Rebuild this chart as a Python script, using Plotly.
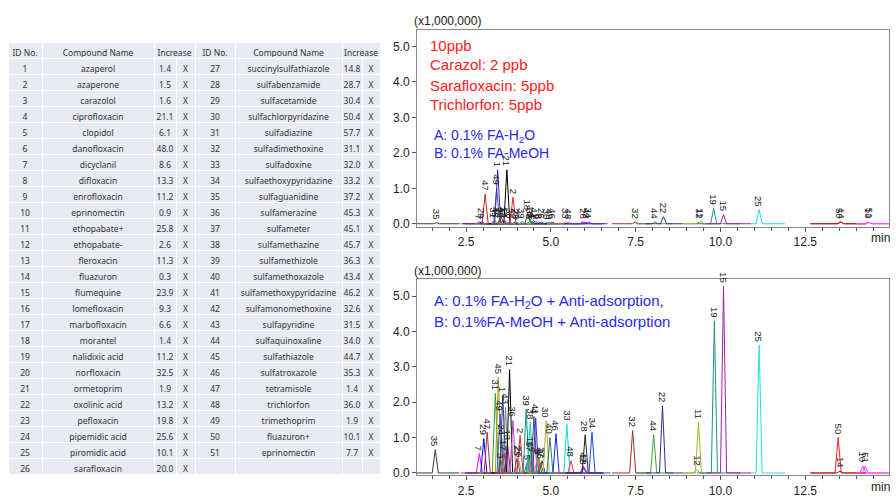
import plotly.graph_objects as go

# ---------------- table data ----------------
ids_left = list(range(1, 27))
names_left = ["azaperol", "azaperone", "carazolol", "ciprofloxacin", "clopidol", "danofloxacin",
              "dicyclanil", "difloxacin", "enrofloxacin", "eprinomectin", "ethopabate+", "ethopabate-",
              "fleroxacin", "fluazuron", "flumequine", "lomefloxacin", "marbofloxacin", "morantel",
              "nalidixic acid", "norfloxacin", "ormetoprim", "oxolinic acid", "pefloxacin",
              "pipemidic acid", "piromidic acid", "sarafloxacin"]
inc_left = [1.4, 1.5, 1.6, 21.1, 6.1, 48.0, 8.6, 13.3, 11.2, 0.9, 25.8, 2.6, 11.3, 0.3, 23.9,
            9.3, 6.6, 1.4, 11.2, 32.5, 1.9, 13.2, 19.8, 25.6, 10.1, 20.0]

ids_right = list(range(27, 52))
names_right = ["succinylsulfathiazole", "sulfabenzamide", "sulfacetamide", "sulfachlorpyridazine",
               "sulfadiazine", "sulfadimethoxine", "sulfadoxine", "sulfaethoxypyridazine",
               "sulfaguanidine", "sulfamerazine", "sulfameter", "sulfamethazine", "sulfamethizole",
               "sulfamethoxazole", "sulfamethoxypyridazine", "sulfamonomethoxine", "sulfapyridine",
               "sulfaquinoxaline", "sulfathiazole", "sulfatroxazole", "tetramisole", "trichlorfon",
               "trimethoprim", "fluazuron+", "eprinomectin"]
inc_right = [14.8, 28.7, 30.4, 50.4, 57.7, 31.1, 32.0, 33.2, 37.2, 45.3, 45.1, 45.7, 36.3, 43.4,
             46.2, 32.6, 31.5, 34.0, 44.7, 35.3, 1.4, 36.0, 1.9, 10.1, 7.7]

header_labels = ["ID\u00a0No.", "Compound\u00a0Name", "Increase"]

# ---------------- chromatogram data ----------------
# top: 10 ppb, standard mobile phase (heights in x1,000,000)
top_ids = [35, 7, 29, 47, 31, 45, 49, 1, 24, 3, 43, 17, 13, 21, 36, 2, 23, 20, 39, 18, 38, 16,
           6, 4, 41, 9, 8, 26, 30, 40, 46, 33, 48, 28, 42, 34, 32, 44, 22, 12, 11, 19, 15, 25,
           50, 14, 10, 51]
top_rt = [1.62, 2.88, 2.96, 3.06, 3.30, 3.36, 3.40, 3.43, 3.48, 3.52, 3.56, 3.60, 3.65, 3.70,
          3.78, 3.88, 3.95, 4.00, 4.15, 4.32, 4.36, 4.40, 4.45, 4.48, 4.52, 4.58, 4.63, 4.72,
          4.86, 4.95, 5.05, 5.45, 5.52, 5.95, 6.03, 6.12, 7.49, 8.07, 8.32, 9.36, 9.42, 9.80,
          10.09, 11.14, 13.53, 13.56, 14.35, 14.38]
top_h = [0.03, 0.06, 0.05, 0.84, 0.07, 0.08, 1.00, 1.52, 0.06, 0.22, 0.08, 0.10, 0.09, 1.52,
         0.05, 0.75, 0.05, 0.03, 0.06, 0.28, 0.05, 0.10, 0.03, 0.09, 0.06, 0.05, 0.06, 0.05,
         0.04, 0.04, 0.04, 0.06, 0.03, 0.05, 0.04, 0.05, 0.05, 0.06, 0.20, 0.04, 0.07, 0.43,
         0.26, 0.40, 0.06, 0.05, 0.04, 0.04]

# bottom: with anti-adsorption additive
bot_ids = [35, 7, 29, 47, 31, 45, 49, 3, 24, 1, 17, 43, 13, 21, 36, 23, 20, 2, 39, 5, 37, 38,
           16, 6, 4, 41, 9, 8, 26, 27, 30, 40, 46, 33, 48, 42, 18, 28, 34, 32, 44, 22, 12, 11,
           19, 15, 25, 50, 14, 10, 51]
bot_rt = [1.59, 2.89, 3.02, 3.12, 3.36, 3.45, 3.50, 3.53, 3.55, 3.58, 3.62, 3.66, 3.72, 3.78,
          3.88, 4.00, 4.05, 4.09, 4.27, 4.30, 4.35, 4.39, 4.41, 4.44, 4.50, 4.55, 4.60, 4.64,
          4.69, 4.74, 4.86, 4.97, 5.15, 5.47, 5.59, 5.95, 5.98, 6.01, 6.21, 7.41, 8.03, 8.29,
          9.30, 9.35, 9.82, 10.09, 11.14, 13.47, 13.52, 14.20, 14.27]
bot_h = [0.66, 0.55, 0.97, 1.15, 2.25, 2.70, 1.67, 0.35, 0.97, 2.20, 0.55, 1.85, 0.83, 2.92,
         1.48, 0.41, 0.35, 1.06, 1.81, 0.30, 0.50, 1.43, 0.62, 0.50, 1.60, 1.55, 0.45, 0.45,
         0.30, 0.35, 1.48, 1.00, 1.11, 1.37, 0.35, 0.20, 0.15, 1.08, 1.15, 1.20, 1.08, 1.90,
         0.10, 1.43, 4.30, 5.28, 3.62, 1.01, 0.05, 0.20, 0.20]

# acquisition windows (baseline segments) per compound
windows = {35: (1.05, 2.30), 32: (6.80, 7.95), 44: (7.50, 8.60), 22: (7.80, 8.90),
           12: (8.90, 9.90), 11: (8.90, 9.90), 19: (9.30, 10.60), 15: (9.60, 10.90),
           25: (10.90, 11.90), 50: (12.65, 14.30), 14: (12.65, 14.30), 10: (14.00, 15.00),
           51: (14.00, 15.00)}

peak_colors = {35: "#3a3a3a", 7: "#ff00ff", 29: "#0000ff", 47: "#b03030", 31: "#30a030",
               45: "#a0a000", 49: "#5050c0", 1: "#3030a0", 24: "#008080", 3: "#707020",
               43: "#808080", 17: "#e02020", 13: "#a020a0", 21: "#000000", 36: "#c040c0",
               2: "#d83030", 23: "#8b4513", 20: "#909090", 39: "#109090", 5: "#606060",
               37: "#20a020", 38: "#00d0d0", 16: "#30b030", 6: "#ff40ff", 4: "#505050",
               41: "#3030ff", 9: "#ff70b0", 8: "#40a040", 26: "#996633", 27: "#404040",
               30: "#b0b040", 40: "#208060", 46: "#2020e0", 33: "#00e0e0", 48: "#ff3030",
               42: "#ff00ff", 18: "#404040", 28: "#202020", 34: "#2040ff", 32: "#a03030",
               44: "#40a040", 22: "#303090", 12: "#70a070", 11: "#b0b020", 19: "#209090",
               15: "#a020a0", 25: "#20e0e0", 50: "#ff2020", 14: "#902020", 10: "#ff40ff",
               51: "#ff40ff"}

x_ticks = [2.5, 5.0, 7.5, 10.0, 12.5]
y_ticks = [0.0, 1.0, 2.0, 3.0, 4.0, 5.0]

# ---------------- style ----------------
W, H = 896, 504
PEAK_HW = 0.09
FONT = "Liberation Sans"
TABLE_FILL = "#e8ebf4"
TXT = "#333333"


def px_x(p):
    return p / W


def px_y(p):
    return 1 - p / H


fig = go.Figure()

# ---------------- table ----------------
fmt = lambda v: f"{v:.1f}"
col_vals = [
    ids_left, names_left, [fmt(v) for v in inc_left], ["X"] * len(inc_left),
    ids_right + [""], names_right + [""], [fmt(v) for v in inc_right] + [""],
    ["X"] * len(inc_right) + [""],
]
tx0, tx1 = px_x(8), px_x(380)
TOP = 42.5
tfont = dict(family="Noto Sans", size=8.5, color=TXT)
fig.add_trace(go.Table(
    domain=dict(x=[tx0, tx1], y=[px_y(490), px_y(TOP)]),
    columnwidth=[34, 112, 22, 19, 40, 107, 20, 18],
    header=dict(values=[""] * 8, height=16,
                fill_color=TABLE_FILL, line=dict(color="white", width=1), font=tfont),
    cells=dict(values=col_vals, height=16, fill_color=TABLE_FILL, align="center",
               line=dict(color="white", width=1), font=tfont),
))
fig.add_trace(go.Table(
    domain=dict(x=[tx0, tx1], y=[px_y(TOP + 16), px_y(TOP)]),
    columnwidth=[34, 112, 41, 40, 107, 38],
    header=dict(values=header_labels + header_labels, height=16, fill_color=TABLE_FILL,
                line=dict(color="white", width=1), align="center", font=tfont),
    cells=dict(values=[]),
))

# ---------------- chromatograms ----------------
def add_chrom(ids, rts, hs, xa, ya):
    for pid, rt, h in zip(ids, rts, hs):
        lo, hi = windows.get(pid, (rt - 0.55, rt + 0.55))
        fig.add_trace(go.Scatter(
            x=[lo, rt - PEAK_HW, rt, rt + PEAK_HW, hi], y=[0, 0, h, 0, 0],
            mode="lines", line=dict(color=peak_colors[pid], width=1),
            xaxis=xa, yaxis=ya, showlegend=False, hoverinfo="skip"))
        fig.add_annotation(x=rt, y=h, xref=xa, yref=ya, text=str(pid), textangle=90,
                           showarrow=False, yanchor="bottom", xanchor="center", yshift=1,
                           font=dict(family=FONT, size=9.5, color="#222222"))


add_chrom(top_ids, top_rt, top_h, "x", "y")
add_chrom(bot_ids, bot_rt, bot_h, "x2", "y2")

xdom = [px_x(417), px_x(889)]
axis_common = dict(showgrid=False, zeroline=False, showline=True, linecolor="#888888",
                   linewidth=1, mirror=True, ticks="outside", ticklen=4, tickcolor="#555555",
                   tickfont=dict(family=FONT, size=12, color="#222222"))
fig.update_layout(
    width=W, height=H, margin=dict(l=0, r=0, t=0, b=0),
    paper_bgcolor="white", plot_bgcolor="white", showlegend=False,
    xaxis=dict(domain=xdom, range=[1.05, 14.97], anchor="y", tickmode="array",
               tickvals=x_ticks, ticktext=[f"{v:.1f}" for v in x_ticks],
               minor=dict(dtick=0.5, tick0=0, ticks="outside", ticklen=3, tickcolor="#555555"),
               **axis_common),
    yaxis=dict(domain=[px_y(229), px_y(30)], range=[-0.084, 5.475], anchor="x",
               tickmode="array", tickvals=y_ticks, ticktext=[f"{v:.1f}" for v in y_ticks],
               **axis_common),
    xaxis2=dict(domain=xdom, range=[1.05, 14.97], anchor="y2", tickmode="array",
                tickvals=x_ticks, ticktext=[f"{v:.1f}" for v in x_ticks],
                minor=dict(dtick=0.5, tick0=0, ticks="outside", ticklen=3, tickcolor="#555555"),
                **axis_common),
    yaxis2=dict(domain=[px_y(480), px_y(281.7)], range=[-0.064, 5.484], anchor="x2",
                tickmode="array", tickvals=y_ticks, ticktext=[f"{v:.1f}" for v in y_ticks],
                **axis_common),
)

def txt(x, y, s, color, size, anchor="left"):
    fig.add_annotation(x=px_x(x), y=px_y(y), xref="paper", yref="paper", text=s,
                       showarrow=False, xanchor=anchor, yanchor="middle",
                       font=dict(family=FONT, size=size, color=color))

RED, BLUE = "#ff2020", "#2a2aee"
txt(428, 46, "10ppb", RED, 15)
txt(428, 65, "Carazol: 2 ppb", RED, 15)
txt(428, 86, "Sarafloxacin: 5ppb", RED, 15)
txt(428, 106, "Trichlorfon: 5ppb", RED, 15)
txt(432, 137, "A: 0.1% FA-H<sub>2</sub>O", BLUE, 14)
txt(432, 155, "B: 0.1% FA-MeOH", BLUE, 14)
txt(432, 305, "A: 0.1% FA-H<sub>2</sub>O + Anti-adsorption,", BLUE, 15)
txt(432, 325, "B: 0.1%FA-MeOH + Anti-adsorption", BLUE, 15)
txt(412, 21, "(x1,000,000)", "#222222", 12)
txt(412, 274, "(x1,000,000)", "#222222", 12)
txt(880, 240, "min", "#222222", 12, "center")
txt(880, 492, "min", "#222222", 12, "center")

fig.write_html("out.html", config={"displayModeBar": False},
               post_script="document.body.style.margin='0';")
